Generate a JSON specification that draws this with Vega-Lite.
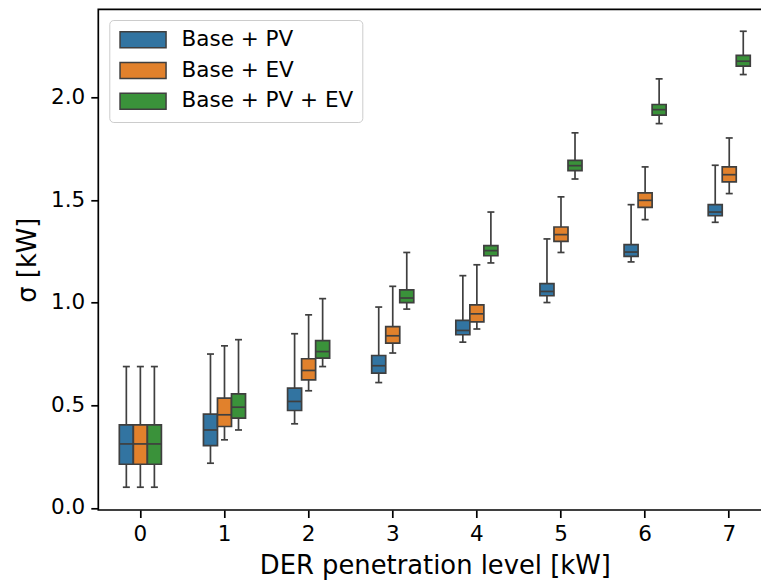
{
  "$schema": "https://vega.github.io/schema/vega-lite/v6.json",
  "width": 673,
  "height": 500.7,
  "autosize": {"type": "none"},
  "padding": {"left": 98.3, "top": 9.3, "right": -10.3, "bottom": 73},
  "background": "white",
  "config": {
    "view": {"stroke": "#000", "strokeWidth": 1.7},
    "font": "DejaVu Sans",
    "axis": {
      "grid": false,
      "domain": false,
      "tickColor": "#000",
      "tickSize": 7.5,
      "tickWidth": 1.7,
      "labelFont": "DejaVu Sans",
      "labelFontSize": 21.5,
      "labelColor": "#000",
      "labelPadding": 6,
      "titleFont": "DejaVu Sans",
      "titleFontSize": 25.8,
      "titleFontWeight": "normal",
      "titleColor": "#000"
    }
  },
  "data": {
    "values": [
      {"level": "0", "group": "Base + PV", "low": 0.101, "q1": 0.213, "median": 0.312, "q3": 0.405, "high": 0.689},
      {"level": "0", "group": "Base + EV", "low": 0.101, "q1": 0.213, "median": 0.312, "q3": 0.405, "high": 0.689},
      {"level": "0", "group": "Base + PV + EV", "low": 0.101, "q1": 0.213, "median": 0.312, "q3": 0.405, "high": 0.689},
      {"level": "1", "group": "Base + PV", "low": 0.218, "q1": 0.304, "median": 0.380, "q3": 0.457, "high": 0.750},
      {"level": "1", "group": "Base + EV", "low": 0.332, "q1": 0.397, "median": 0.454, "q3": 0.535, "high": 0.790},
      {"level": "1", "group": "Base + PV + EV", "low": 0.380, "q1": 0.438, "median": 0.491, "q3": 0.556, "high": 0.820},
      {"level": "2", "group": "Base + PV", "low": 0.410, "q1": 0.475, "median": 0.519, "q3": 0.584, "high": 0.849},
      {"level": "2", "group": "Base + EV", "low": 0.571, "q1": 0.624, "median": 0.670, "q3": 0.727, "high": 0.941},
      {"level": "2", "group": "Base + PV + EV", "low": 0.689, "q1": 0.730, "median": 0.762, "q3": 0.815, "high": 1.020},
      {"level": "3", "group": "Base + PV", "low": 0.611, "q1": 0.657, "median": 0.693, "q3": 0.743, "high": 0.979},
      {"level": "3", "group": "Base + EV", "low": 0.755, "q1": 0.803, "median": 0.839, "q3": 0.884, "high": 1.080},
      {"level": "3", "group": "Base + PV + EV", "low": 0.969, "q1": 1.001, "median": 1.023, "q3": 1.063, "high": 1.245},
      {"level": "4", "group": "Base + PV", "low": 0.808, "q1": 0.844, "median": 0.865, "q3": 0.914, "high": 1.132},
      {"level": "4", "group": "Base + EV", "low": 0.872, "q1": 0.907, "median": 0.946, "q3": 0.990, "high": 1.185},
      {"level": "4", "group": "Base + PV + EV", "low": 1.194, "q1": 1.229, "median": 1.254, "q3": 1.278, "high": 1.442},
      {"level": "5", "group": "Base + PV", "low": 1.001, "q1": 1.034, "median": 1.055, "q3": 1.093, "high": 1.311},
      {"level": "5", "group": "Base + EV", "low": 1.245, "q1": 1.299, "median": 1.332, "q3": 1.369, "high": 1.516},
      {"level": "5", "group": "Base + PV + EV", "low": 1.603, "q1": 1.644, "median": 1.668, "q3": 1.694, "high": 1.828},
      {"level": "6", "group": "Base + PV", "low": 1.199, "q1": 1.226, "median": 1.247, "q3": 1.283, "high": 1.478},
      {"level": "6", "group": "Base + EV", "low": 1.405, "q1": 1.465, "median": 1.499, "q3": 1.535, "high": 1.662},
      {"level": "6", "group": "Base + PV + EV", "low": 1.873, "q1": 1.914, "median": 1.941, "q3": 1.966, "high": 2.091},
      {"level": "7", "group": "Base + PV", "low": 1.392, "q1": 1.424, "median": 1.442, "q3": 1.478, "high": 1.670},
      {"level": "7", "group": "Base + EV", "low": 1.532, "q1": 1.589, "median": 1.624, "q3": 1.662, "high": 1.803},
      {"level": "7", "group": "Base + PV + EV", "low": 2.112, "q1": 2.153, "median": 2.177, "q3": 2.205, "high": 2.323}
    ]
  },
  "encoding": {
    "x": {
      "field": "level",
      "type": "nominal",
      "sort": ["0", "1", "2", "3", "4", "5", "6", "7"],
      "scale": {"paddingInner": 0.5, "paddingOuter": 0.25},
      "axis": {"labelAngle": 0, "title": "DER penetration level [kW]", "titlePadding": 8}
    },
    "xOffset": {
      "field": "group",
      "type": "nominal",
      "sort": ["Base + PV", "Base + EV", "Base + PV + EV"],
      "scale": {"paddingInner": 0, "paddingOuter": 0}
    }
  },
  "layer": [
    {
      "mark": {"type": "rule", "color": "#3f3f3f", "strokeWidth": 1.7},
      "encoding": {
        "y": {
          "field": "low",
          "type": "quantitative",
          "scale": {"domain": [-0.01, 2.43], "nice": false, "zero": false},
          "axis": {"values": [0, 0.5, 1, 1.5, 2], "format": ".1f", "title": "σ [kW]", "titlePadding": 10}
        },
        "y2": {"field": "high"}
      }
    },
    {
      "mark": {"type": "bar", "stroke": "#3f3f3f", "strokeWidth": 1.7, "opacity": 1},
      "encoding": {
        "y": {"field": "q1", "type": "quantitative"},
        "y2": {"field": "q3"},
        "color": {
          "field": "group",
          "type": "nominal",
          "sort": ["Base + PV", "Base + EV", "Base + PV + EV"],
          "scale": {"domain": ["Base + PV", "Base + EV", "Base + PV + EV"], "range": ["#3274a1", "#e1812c", "#3a923a"]},
          "legend": {
            "orient": "none",
            "legendX": 11,
            "legendY": 10.7,
            "title": null,
            "symbolType": "M-1.125,-1H4.625V1H-1.125Z",
            "symbolSize": 256,
            "symbolStrokeColor": "#3f3f3f",
            "symbolStrokeWidth": 1.5,
            "symbolOpacity": 1,
            "labelFont": "DejaVu Sans",
            "labelFontSize": 21.5,
            "labelColor": "#000",
            "labelLimit": 400,
            "labelOffset": 41.7,
            "labelExpr": "datum.label + '\u00a0\u00a0'",
            "rowPadding": 7.8,
            "padding": 9,
            "strokeColor": "#cccccc",
            "fillColor": "#ffffff",
            "cornerRadius": 4
          }
        }
      }
    },
    {
      "mark": {"type": "tick", "color": "#3f3f3f", "size": 14, "thickness": 1.7, "opacity": 1},
      "encoding": {"y": {"field": "median", "type": "quantitative"}}
    },
    {
      "mark": {"type": "tick", "color": "#3f3f3f", "size": 7, "thickness": 1.7, "opacity": 1},
      "encoding": {"y": {"field": "low", "type": "quantitative"}}
    },
    {
      "mark": {"type": "tick", "color": "#3f3f3f", "size": 7, "thickness": 1.7, "opacity": 1},
      "encoding": {"y": {"field": "high", "type": "quantitative"}}
    }
  ]
}
